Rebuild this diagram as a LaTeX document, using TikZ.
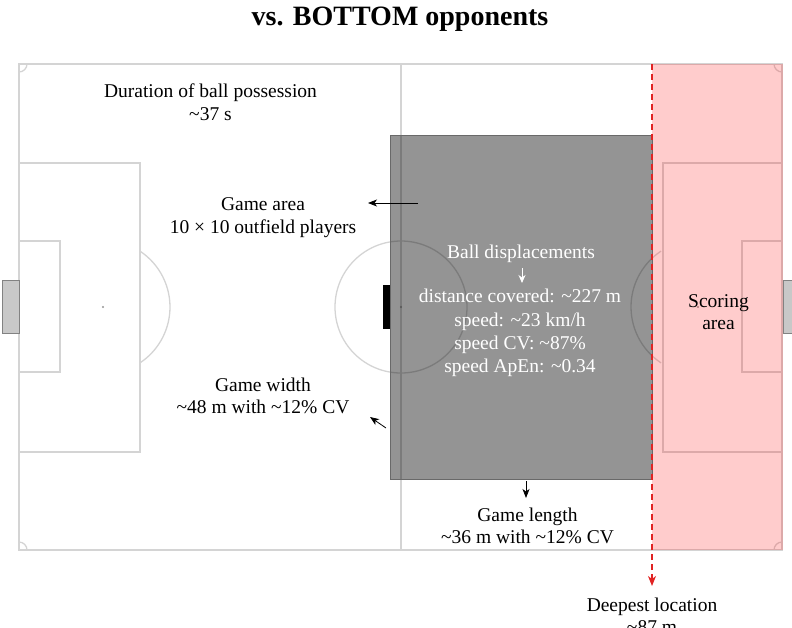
\documentclass[tikz,border=0pt]{standalone}
\usepackage{fontspec}
\setmainfont{Liberation Serif}
\usetikzlibrary{arrows.meta}
\definecolor{pitchline}{RGB}{212,212,212}
\definecolor{goalfill}{RGB}{200,200,200}
\definecolor{goaledge}{RGB}{130,130,130}
\definecolor{zoneedge}{RGB}{105,105,105}
\definecolor{deepred}{RGB}{225,35,35}
\begin{document}
\begin{tikzpicture}[x=1pt,y=-1pt,
  pline/.style={draw=pitchline, line width=1.3pt},
  txt/.style={font=\fontsize{19.5}{22.5}\selectfont, align=center, inner sep=0pt},
  wtxt/.style={txt, text=white},
  arr/.style={-{Stealth[length=9pt,width=7pt,inset=2.5pt]}, line width=0.8pt},
  goalbox/.style={draw=goaledge, fill=goalfill, line width=1pt}]
\useasboundingbox (0,0) rectangle (792,627);
% pitch markings
\draw[pline] (19,64) rectangle (782,550);
\draw[pline] (401,64) -- (401,550);
\draw[pline] (401,307) circle (66);
\draw[pline] (19,163) rectangle (140,452);
\draw[pline] (19,241) rectangle (60,372);
\draw[pline] (663,163) rectangle (782,452);
\draw[pline] (742,241) rectangle (782,372);
\draw[pline] ([shift={(-56.5:67)}]103,307) arc[start angle=-56.5, end angle=56.5, radius=67];
\draw[pline] ([shift={(123.5:67)}]698,307) arc[start angle=123.5, end angle=236.5, radius=67];
\fill[pitchline!70!black] (103,307) circle (1.2) (698,307) circle (1.2) (401,307) circle (1.2);
\begin{scope}
  \clip (19,64) rectangle (782,550);
  \draw[pline] (19,64) circle (8) (782,64) circle (8) (19,550) circle (8) (782,550) circle (8);
\end{scope}
% goals
\draw[goalbox] (2,280) rectangle (19,333);
\draw[goalbox] (783,280) rectangle (797,333);
% scoring area
\fill[red, opacity=0.2] (652,64) rectangle (783,550);
% game area
\fill[black] (383,285) rectangle (391,329);
\draw[draw=zoneedge, line width=1pt, fill=black, fill opacity=0.42] (390,135) rectangle (652,479);
% deepest location line
\coordinate (deeptop) at (652,64);
\coordinate (deeptip) at (652,586);
\draw[deepred, line width=1.3pt, dash pattern=on 6pt off 4pt, -{Stealth[length=10pt,width=8pt,inset=3pt]}] (deeptop) -- (deeptip);
% texts
\node[font=\fontsize{28}{32}\selectfont\bfseries, inner sep=0pt] (title) at (400,19.5) {vs. BOTTOM opponents};
\node[txt] (poss) at (210.5,102) {Duration of ball possession\\\textasciitilde37 s};
\node[txt] (area) at (263,217.5) {Game area\\10 × 10 outfield players};
\node[txt] (width) at (263,396) {Game width\\\textasciitilde48 m with \textasciitilde12\% CV};
\node[wtxt] (ball) at (521,253.5) {Ball displacements};
\node[wtxt, font=\fontsize{19.5}{23.3}\selectfont] (ballstats) at (520,333) {distance covered: \textasciitilde227 m\\speed: \textasciitilde23 km/h\\speed CV: \textasciitilde87\%\\speed ApEn: \textasciitilde0.34};
\node[txt] (scoring) at (718.5,312) {Scoring\\area};
\node[txt] (length) at (527.5,526) {Game length\\\textasciitilde36 m with \textasciitilde12\% CV};
\node[txt] (deep) at (652,616) {Deepest location\\\textasciitilde87 m};
% arrows
\coordinate (areaS) at (418,203);
\coordinate (areaE) at (368,203);
\draw[arr] (areaS) -- (areaE);
\coordinate (widthS) at (386,428);
\coordinate (widthE) at (370,417);
\draw[arr] (widthS) -- (widthE);
\coordinate (lenS) at (526,481);
\coordinate (lenE) at (526,498);
\draw[arr] (lenS) -- (lenE);
\coordinate (ballS) at (522,268);
\coordinate (ballE) at (522,283);
\draw[arr, white, line width=1pt, -{Stealth[length=8pt,width=7pt,inset=2.5pt]}] (ballS) -- (ballE);
\end{tikzpicture}
\end{document}
